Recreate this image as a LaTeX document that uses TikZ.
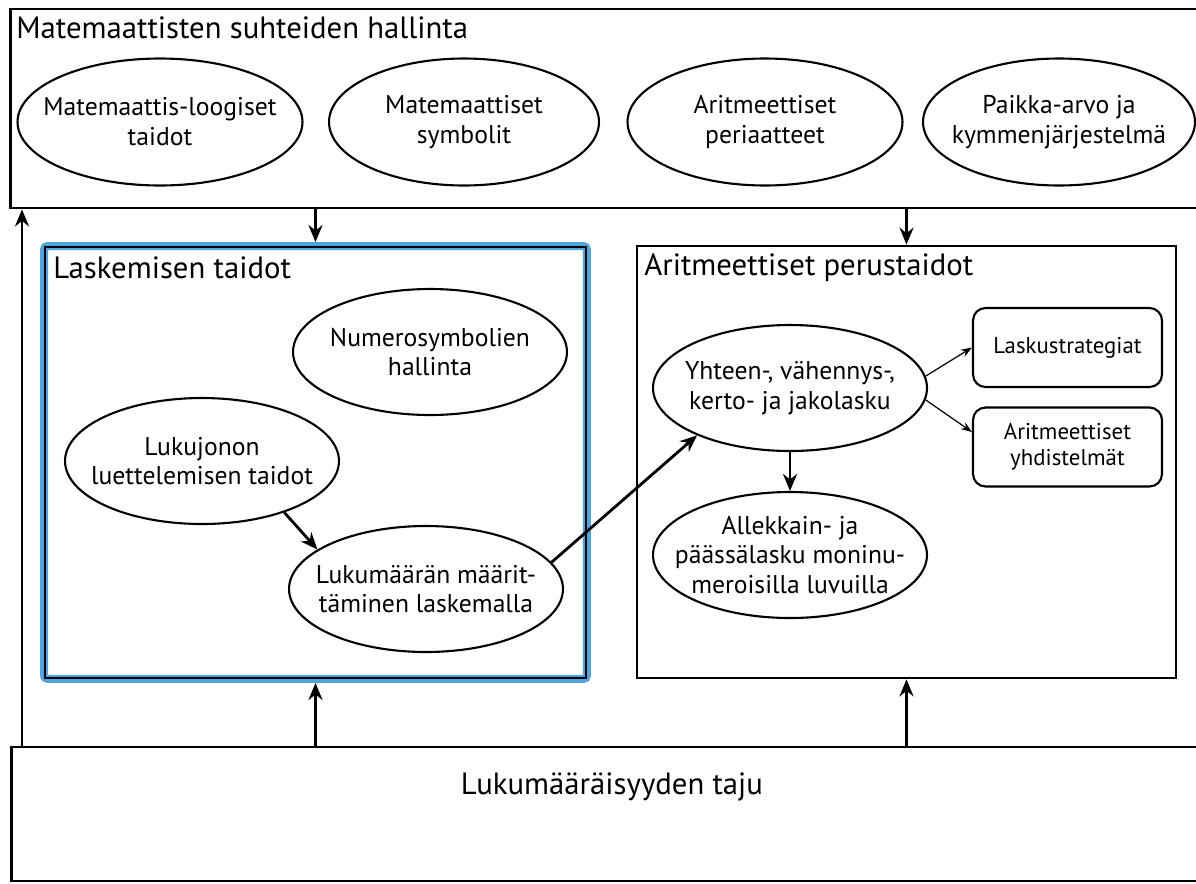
\documentclass[tikz,border=0pt]{standalone}
\usepackage{fontspec}
\setmainfont{PT Sans}
\definecolor{laskblue}{RGB}{77, 166, 223}
\usetikzlibrary{shapes.geometric, arrows.meta, positioning}
\tikzset{
  frame/.style={draw, line width=1.6pt, inner sep=0pt},
  topic/.style={font=\fontsize{17.5}{20}\selectfont, anchor=west, inner sep=0pt},
  skill/.style={ellipse, draw, line width=1.2pt, inner xsep=-2cm, inner ysep=-1cm, minimum width=5.48cm, minimum height=2.52cm, align=center, font=\fontsize{14.6}{17}\selectfont},
  subskill/.style={rectangle, rounded corners=0.25cm, draw, line width=1.2pt, minimum width=3.78cm, minimum height=1.58cm, align=center, font=\fontsize{13}{15}\selectfont},
  flow/.style={-{Stealth[length=0.34cm, width=0.28cm]}, line width=1.6pt},
  thinflow/.style={-{Stealth[length=0.22cm, width=0.16cm]}, line width=0.7pt},
}
\begin{document}
\begin{tikzpicture}[x=0.02cm, y=-0.02cm]
  \useasboundingbox (0,0) rectangle (1196,883);
  \clip (0,0) rectangle (1196,883);

  % outer frames
  \node[frame, minimum width=24.1cm, minimum height=3.98cm] (suhteet) at (612.5,108.5) {};
  \node[frame, minimum width=24.08cm, minimum height=2.68cm] (taju) at (613,814) {};
  \node[frame, draw=laskblue, line width=0.16cm, rounded corners=2pt, minimum width=10.86cm, minimum height=8.66cm] (laskemisen) at (315.5,462.5) {};
  \draw[line width=1pt] ([shift={(5,5)}]laskemisen.north west) rectangle ([shift={(-5,-5)}]laskemisen.south east);
  \node[frame, minimum width=10.78cm, minimum height=8.64cm] (perus) at (906.5,462) {};

  % titles
  \node[topic] (suhteettitle) at (16,28) {Matemaattisten suhteiden hallinta};
  \node[topic] (laskemisentitle) at (53,268) {Laskemisen taidot};
  \node[topic] (perustitle) at (644,268) {Aritmeettiset perustaidot};
  \node[font=\fontsize{17.5}{20}\selectfont, inner sep=0pt] (tajutitle) at (612,787) {Lukumääräisyyden taju};

  % top row
  \node[skill, minimum width=5.7cm, minimum height=2.54cm] (logiset) at (160,122) {Matemaattis-loogiset\\taidot};
  \node[skill, minimum width=5.4cm, minimum height=2.54cm] (symbolit) at (464,122) {Matemaattiset\\symbolit};
  \node[skill, minimum width=5.5cm, minimum height=2.54cm] (periaatteet) at (765,122) {Aritmeettiset\\periaatteet};
  \node[skill, minimum width=5.44cm, minimum height=2.54cm] (paikka) at (1059,122) {Paikka-arvo ja\\kymmenjärjestelmä};

  % laskemisen taidot
  \node[skill] (numero) at (430,352) {Numerosymbolien\\hallinta};
  \node[skill] (lukujono) at (202,461) {Lukujonon\\luettelemisen taidot};
  \node[skill] (lukumaara) at (426,589) {Lukumäärän määrit-\\täminen laskemalla};

  % aritmeettiset perustaidot
  \node[skill] (yhteen) at (790,388) {Yhteen-, vähennys-,\\kerto- ja jakolasku};
  \node[skill] (allekkain) at (790,555) {Allekkain- ja\\päässälasku moninu-\\meroisilla luvuilla};
  \node[subskill] (strategiat) at (1067.5,347.5) {Laskustrategiat};
  \node[subskill] (yhdistelmat) at (1067.5,447) {Aritmeettiset\\yhdistelmät};

  % connectors
  \draw[flow] (suhteet.south -| laskemisen.north) -- (laskemisen.north);
  \draw[flow] (suhteet.south -| perus.north) -- (perus.north);
  \draw[flow] (taju.north -| laskemisen.south) -- (laskemisen.south);
  \draw[flow] (taju.north -| perus.south) -- (perus.south);
  \coordinate (sivu) at (22,747);
  \draw[flow] (sivu) -- (sivu |- suhteet.south);

  \draw[flow] (lukujono.-32) -- (lukumaara.160);
  \draw[flow] (lukumaara.12) -- (yhteen.207);
  \draw[flow] (yhteen.south) -- (allekkain.north);
  \draw[thinflow] (yhteen.5) -- (strategiat.west);
  \draw[thinflow] (yhteen.-5) -- ([yshift=0.3cm]yhdistelmat.west);
\end{tikzpicture}
\end{document}
